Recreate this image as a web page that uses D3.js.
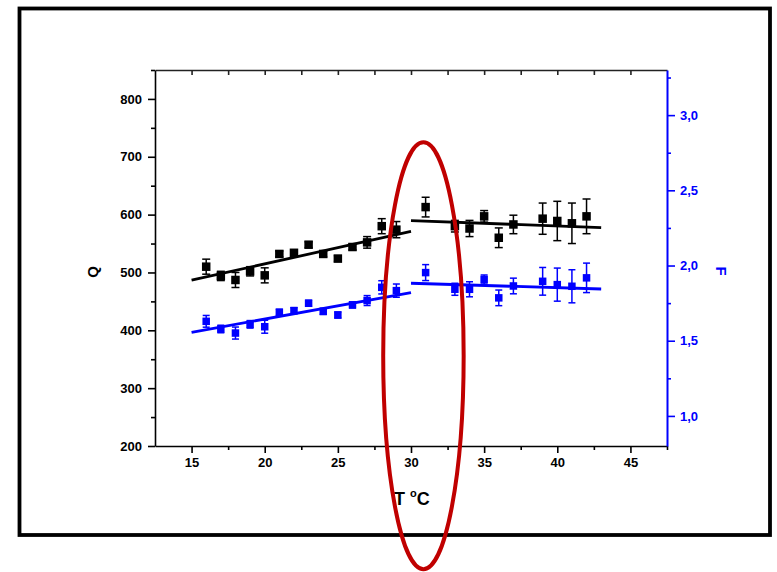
<!DOCTYPE html>
<html>
<head>
<meta charset="utf-8">
<script src="https://cdn.jsdelivr.net/npm/d3@7/dist/d3.min.js"></script>
<style>
  html, body { margin: 0; padding: 0; background: #fff; }
  svg { display: block; }
  text { font-family: "Liberation Sans", Arial, sans-serif; font-weight: bold; }
</style>
</head>
<body>
<svg id="chart" width="777" height="572"></svg>
<script>
// ---- data ----
const temps = [16,17,18,19,20,21,22,23,24,25,26,27,28,29,31,33,34,35,36,37,39,40,41,42];
const qValues = [510,494,487,502,495,532,534,548,532,524,544,552,580,574,613,580,576,597,560,583,593,589,585,597];
const qErrors = [13,8,13,8,13,5,5,5,5,5,5,10,13,14,17,10,14,10,17,16,27,34,35,30];
const fValues = [1.629,1.578,1.551,1.609,1.593,1.689,1.700,1.749,1.695,1.671,1.738,1.767,1.855,1.833,1.953,1.842,1.842,1.907,1.785,1.864,1.895,1.873,1.862,1.918];
const fErrors = [0.039,0.025,0.040,0.025,0.043,0.02,0.02,0.02,0.02,0.02,0.02,0.033,0.044,0.044,0.053,0.040,0.050,0.030,0.052,0.052,0.092,0.110,0.110,0.098];
const qFitLow = [[15, 486.7], [30, 571]];
const qFitHigh = [[30, 589.6], [43, 577.6]];
const fFitLow = [[15, 1.556], [30, 1.82]];
const fFitHigh = [[30, 1.882], [43, 1.844]];
const xTicks = [15, 20, 25, 30, 35, 40, 45];
const xMinorTicks = [17.5, 22.5, 27.5, 32.5, 37.5, 42.5, 47.5];
const qTicks = [200, 300, 400, 500, 600, 700, 800];
const qMinorTicks = [250, 350, 450, 550, 650, 750, 850];
const fTicks = [1.0, 1.5, 2.0, 2.5, 3.0];
const fMinorTicks = [1.25, 1.75, 2.25, 2.75, 3.25];
// highlight ellipse (data units: centre T, centre Q, half-width in T, half-height in Q)
const highlight = {t: 30.85, q: 356, dt: 2.75, dq: 369};

// ---- layout ----
const svg = d3.select("#chart");
const L = 155, R = 667, T = 70, B = 446;
const blue = "#0000ff";

const x = d3.scaleLinear().domain([12.5, 47.5]).range([L, R]);
const yQ = d3.scaleLinear().domain([200, 850]).range([B, T]);
const yF = d3.scaleLinear().domain([0.8, 3.3]).range([B, T]);

svg.append("rect").attr("width", 777).attr("height", 572).attr("fill", "#fff");
// outer frame
svg.append("rect").attr("x", 19.5).attr("y", 8.5).attr("width", 750.5).attr("height", 526.5)
  .attr("fill", "none").attr("stroke", "#000").attr("stroke-width", 3.8);

function styleAxis(g, color) {
  g.select(".domain").attr("stroke", color).attr("stroke-width", 1.6);
  g.selectAll(".tick line").attr("stroke", color).attr("stroke-width", 1.6);
  g.selectAll(".tick text").attr("fill", color).attr("font-size", 13)
    .attr("font-family", "'Liberation Sans', Arial, sans-serif").attr("font-weight", "bold");
}

// bottom axis
const gb = svg.append("g").attr("transform", `translate(0,${B})`)
  .call(d3.axisBottom(x).tickValues(xTicks).tickSize(7).tickPadding(5).tickSizeOuter(0).tickFormat(d3.format("d")));
styleAxis(gb, "#000");
const gbm = svg.append("g").attr("transform", `translate(0,${B})`)
  .call(d3.axisBottom(x).tickValues(xMinorTicks).tickSize(4).tickSizeOuter(0).tickFormat(""));
styleAxis(gbm, "#000");
gbm.select(".domain").remove();

// top axis (ticks pointing inward)
const gt = svg.append("g").attr("transform", `translate(0,${T})`)
  .call(d3.axisBottom(x).tickValues(xTicks.concat(xMinorTicks.filter(v => v < 47.5))).tickSize(5).tickSizeOuter(0).tickFormat(""));
styleAxis(gt, "#222");

// left axis
const gl = svg.append("g").attr("transform", `translate(${L},0)`)
  .call(d3.axisLeft(yQ).tickValues(qTicks).tickSize(7).tickPadding(6).tickSizeOuter(0).tickFormat(d3.format("d")));
styleAxis(gl, "#000");
const glm = svg.append("g").attr("transform", `translate(${L},0)`)
  .call(d3.axisLeft(yQ).tickValues(qMinorTicks).tickSize(4).tickSizeOuter(0).tickFormat(""));
styleAxis(glm, "#000");
glm.select(".domain").remove();

// right axis
const commaFmt = d => d3.format(".1f")(d).replace(".", ",");
const gr = svg.append("g").attr("transform", `translate(${R},0)`)
  .call(d3.axisRight(yF).tickValues(fTicks).tickSize(8).tickPadding(5).tickSizeOuter(0).tickFormat(commaFmt));
styleAxis(gr, blue);
gr.select(".domain").attr("stroke-width", 2);
const grm = svg.append("g").attr("transform", `translate(${R},0)`)
  .call(d3.axisRight(yF).tickValues(fMinorTicks).tickSize(4).tickSizeOuter(0).tickFormat(""));
styleAxis(grm, blue);
grm.select(".domain").remove();

// axis titles
svg.append("text").attr("transform", `translate(98,272) rotate(-90)`)
  .attr("text-anchor", "middle").attr("font-size", 15).attr("fill", "#000").text("Q");
svg.append("text").attr("transform", `translate(716,271) rotate(90)`)
  .attr("text-anchor", "middle").attr("font-size", 15).attr("fill", blue).text("F");
const xt = svg.append("text").attr("x", 394).attr("y", 505).attr("font-size", 18).attr("fill", "#000");
xt.append("tspan").text("T ");
xt.append("tspan").attr("font-size", 11).attr("dy", -8).text("o");
xt.append("tspan").attr("dy", 8).text("C");

// fit lines
const lineQ = d3.line().x(d => x(d[0])).y(d => yQ(d[1]));
const lineF = d3.line().x(d => x(d[0])).y(d => yF(d[1]));
[qFitLow, qFitHigh].forEach(seg => svg.append("path").attr("d", lineQ(seg))
  .attr("stroke", "#000").attr("stroke-width", 2.8).attr("fill", "none"));
[fFitLow, fFitHigh].forEach(seg => svg.append("path").attr("d", lineF(seg))
  .attr("stroke", blue).attr("stroke-width", 2.8).attr("fill", "none"));

function drawSeries(vals, errs, scale, color, size, cap) {
  const g = svg.append("g");
  temps.forEach((t, i) => {
    const cx = x(t), cy = scale(vals[i]);
    const y1 = scale(vals[i] + errs[i]), y2 = scale(vals[i] - errs[i]);
    g.append("line").attr("x1", cx).attr("x2", cx).attr("y1", y1).attr("y2", y2)
      .attr("stroke", color).attr("stroke-width", 1.5);
    [y1, y2].forEach(yy => g.append("line").attr("x1", cx - cap / 2).attr("x2", cx + cap / 2)
      .attr("y1", yy).attr("y2", yy).attr("stroke", color).attr("stroke-width", 1.5));
    g.append("rect").attr("x", cx - size / 2).attr("y", cy - size / 2)
      .attr("width", size).attr("height", size).attr("fill", color);
  });
}
drawSeries(qValues, qErrors, yQ, "#000", 8.5, 8);
drawSeries(fValues, fErrors, yF, blue, 7.5, 7);

// highlight ellipse
svg.append("ellipse")
  .attr("cx", x(highlight.t)).attr("cy", yQ(highlight.q))
  .attr("rx", x(highlight.t + highlight.dt) - x(highlight.t))
  .attr("ry", yQ(highlight.q) - yQ(highlight.q + highlight.dq))
  .attr("fill", "none").attr("stroke", "#c00000").attr("stroke-width", 4);
</script>
</body>
</html>
